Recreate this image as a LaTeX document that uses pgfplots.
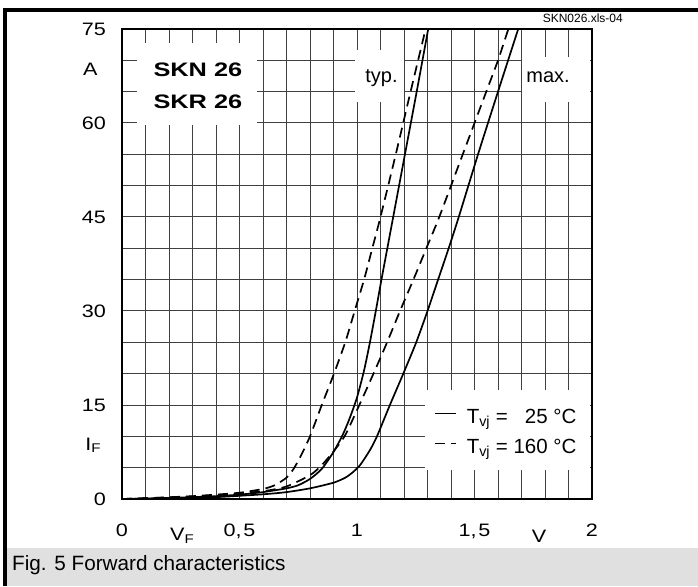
\documentclass[border=0pt]{standalone}
\usepackage{fontspec}
\setmainfont{Liberation Sans}
\usepackage{graphicx}
\usepackage{pgfplots}
\pgfplotsset{compat=1.18}
\newcommand\hs[2][1.2]{\scalebox{#1}[1]{#2}}
\newcommand\fs[1]{\fontsize{#1}{#1}\selectfont}

\begin{document}
\begin{tikzpicture}
% page: 698 x 586, axis box south west corner at the origin
\useasboundingbox (-122pt,-87pt) rectangle (576pt,499pt);
\fill[white] (-122pt,-87pt) rectangle (576pt,499pt);
\fill[black!12] (-117pt,-87pt) rectangle (576pt,-49pt);
\draw[line width=3.5pt] (-117pt,-87pt) -- (-117pt,489pt) -- (576pt,489pt);
\node[anchor=base west, font=\fs{20.7}, inner sep=0pt] at (-110pt,-71.7pt) {Fig. 5 Forward characteristics};
\node[anchor=base east, font=\fs{12}, inner sep=0pt] at (501pt,476.3pt) {SKN026.xls-04};

\begin{axis}[
  at={(0pt,0pt)}, anchor=south west,
  scale only axis, width=470pt, height=470pt,
  xmin=0, xmax=2, ymin=0, ymax=75,
  xtick={0,0.5,1,1.5,2},
  xticklabels={{\hs{0}},{\hs{0,\kern1.5pt 5}},{\hs{1}},{\hs{1,\kern1.5pt 5}},{\hs{2}}},
  minor xtick={0.1,0.2,...,1.9},
  ytick={0,15,30,45,60,75},
  yticklabels={{\hs{0}},{\hs{15}},{\hs{30}},{\hs{45}},{\hs{60}},{\hs{75}}},
  minor ytick={5,10,...,70},
  grid=both,
  major grid style={black!75, line width=1pt},
  minor grid style={black!75, line width=1pt},
  major tick length=0pt, minor tick length=0pt,
  axis line style={line width=1.5pt},
  xticklabel style={font=\fs{18}, anchor=base, inner sep=0pt, yshift=-37pt},
  yticklabel style={font=\fs{18}, anchor=east, inner sep=0pt, xshift=-16pt},
  clip=false,
  legend style={at={(axis cs:1.328,14.5)}, anchor=north west, draw=none, fill=none,
    inner sep=0pt, outer sep=0pt, font=\fs{20.5}, row sep=9pt, column sep=10pt,
    nodes={inner sep=0pt, text depth=6pt, text height=15pt}},
  legend cell align=left,
  legend image code/.code={\draw[#1] (0pt,5pt) -- (21pt,5pt);},
]
% white label boxes
\fill[white] (axis cs:0.064,59.7) rectangle (axis cs:0.574,72.8);
\fill[white] (axis cs:0.99,63.4) rectangle (axis cs:1.2,71.6);
\fill[white] (axis cs:1.70,63.4) rectangle (axis cs:1.99,70.6);
\fill[white] (axis cs:1.29,4.6) rectangle (axis cs:1.99,17.4);

% typ., 25 C
\addplot[black, line width=1.7pt, smooth, tension=0.4] coordinates {
(0,0) (0.1,0.08) (0.2,0.18) (0.3,0.3) (0.4,0.45) (0.5,0.7) (0.6,1.1) (0.7,1.7)
(0.75,2.2) (0.8,3.2) (0.85,4.8) (0.9,7.5) (0.94,10.3) (0.97,13) (1.0,16.2)
(1.03,20.5) (1.055,25) (1.08,30) (1.104,35) (1.129,40) (1.154,45) (1.204,55)
(1.254,65) (1.303,75)};
\addlegendentry{T\textsubscript{vj} = \phantom{1}25 °C}
% typ., 160 C
\addplot[black, line width=1.7pt, dash pattern=on 10pt off 6pt, smooth, tension=0.4] coordinates {
(0,0) (0.1,0.12) (0.2,0.28) (0.3,0.45) (0.4,0.7) (0.5,1.0) (0.6,1.6) (0.65,2.2)
(0.7,3.4) (0.73,4.8) (0.76,6.8) (0.8,10) (0.85,15) (0.9,19.8) (0.95,25) (0.99,30)
(1.03,35) (1.065,40) (1.10,45) (1.165,55) (1.228,65) (1.292,75)};
\addlegendentry{T\textsubscript{vj} = 160 °C}
% max., 25 C
\addplot[black, line width=1.7pt, smooth, tension=0.4, forget plot] coordinates {
(0,0) (0.2,0.1) (0.4,0.3) (0.6,0.75) (0.7,1.1) (0.8,1.7) (0.9,2.6) (0.95,3.4)
(0.98,4.2) (1.013,5.4) (1.055,7.8) (1.085,10) (1.14,15) (1.197,20) (1.252,25)
(1.30,30) (1.345,35) (1.39,40) (1.433,45) (1.515,55) (1.60,65) (1.686,75)};
% max., 160 C
\addplot[black, line width=1.7pt, dash pattern=on 10pt off 6pt, smooth, tension=0.4, forget plot] coordinates {
(0,0) (0.2,0.25) (0.4,0.6) (0.6,1.25) (0.7,2.0) (0.8,3.8) (0.85,5.4) (0.9,7.6)
(0.95,10.2) (1.01,15) (1.07,20) (1.128,25) (1.183,30) (1.24,35)
(1.295,40) (1.35,45) (1.45,55) (1.55,65) (1.60,70) (1.644,75)};

\node[anchor=base, font=\fs{19.5}\bfseries, inner sep=0pt] at (axis cs:0.323,67.4) {\hs[1.3]{SKN 26}};
\node[anchor=base, font=\fs{19.5}\bfseries, inner sep=0pt] at (axis cs:0.323,62.3) {\hs[1.3]{SKR 26}};
\node[anchor=base west, font=\fs{20}, inner sep=0pt] at (axis cs:1.035,66.5) {typ.};
\node[anchor=base west, font=\fs{20}, inner sep=0pt] at (axis cs:1.72,66.5) {max.};
\node[anchor=base west, font=\fs{18}, inner sep=0pt] at (axis cs:-0.166,67.5) {\hs{A}};
\node[anchor=base west, font=\fs{18}, inner sep=0pt] at (axis cs:-0.157,7.8) {\hs{I\textsubscript{F}}};
\node[anchor=base west, font=\fs{18}, inner sep=0pt] at (axis cs:0.204,-6.7) {\hs{V\textsubscript{F}}};
\node[anchor=base west, font=\fs{18}, inner sep=0pt] at (axis cs:1.743,-7.0) {\hs{V}};
\end{axis}
\end{tikzpicture}
\end{document}
